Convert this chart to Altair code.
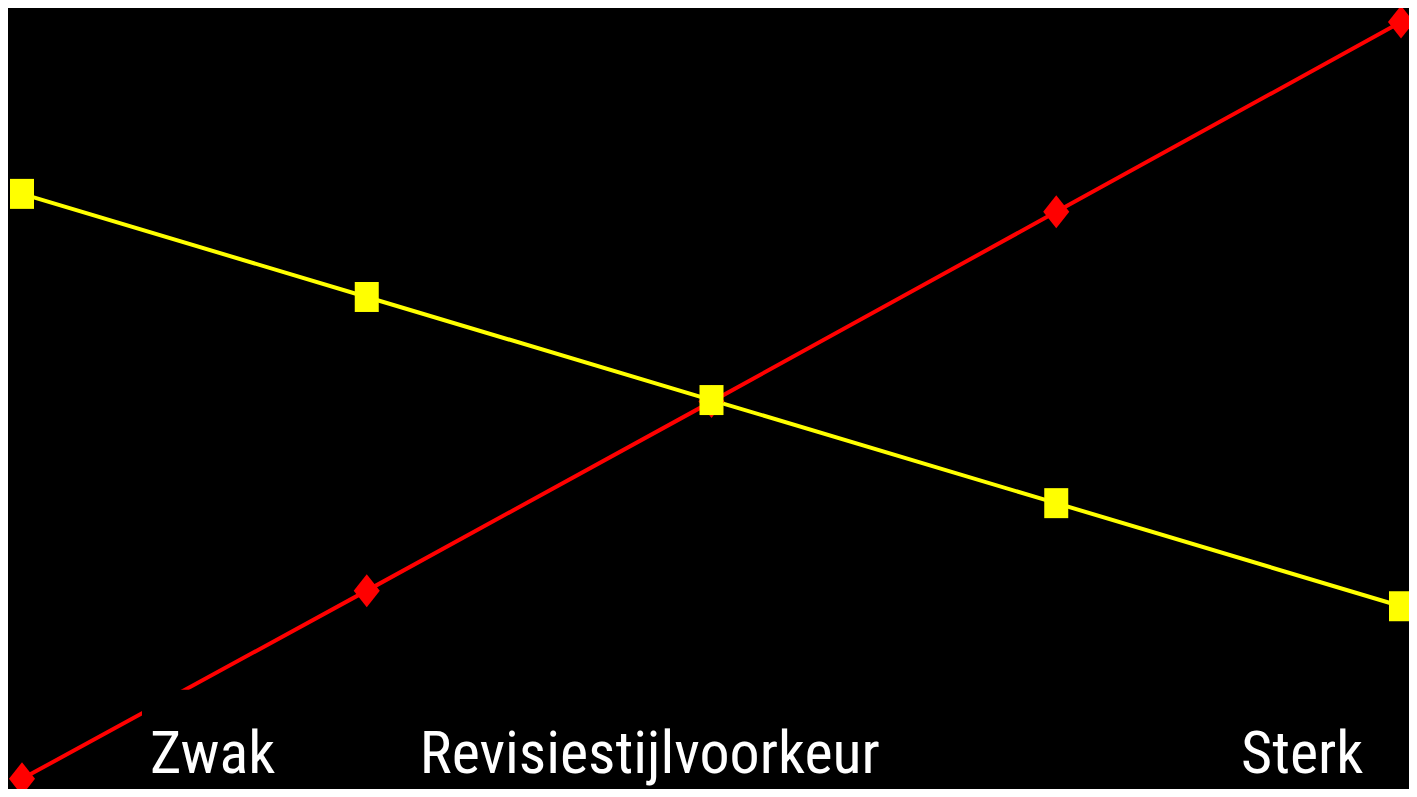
import altair as alt
import pandas as pd

# data
steps = [1, 2, 3, 4, 5]
yellow_vals = [76.2, 63.0, 49.8, 36.6, 23.4]
red_vals = [1.3, 25.4, 49.6, 73.9, 98.2]

labels = ["Zwak", "Revisiestijlvoorkeur", "Sterk"]
label_x = [1.371, 2.154, 4.536]
label_y = [2.05, 2.05, 2.05]

# label box (black background behind the axis texts)
box_x = [1.348]
box_x2 = [5.2]
box_y = [12.7]
box_y2 = [-5]

W, H = 1401, 781

yellow_df = pd.DataFrame({"x": steps, "y": yellow_vals})
red_df = pd.DataFrame({"x": steps, "y": red_vals})
label_df = pd.DataFrame({"x": label_x, "y": label_y, "t": labels})
box_df = pd.DataFrame({"x": box_x, "x2": box_x2, "y": box_y, "y2": box_y2})

xs = alt.Scale(domain=[1, 5], range=[14, 1393])
ys = alt.Scale(domain=[0, 100], range=[H, 0])

X = alt.X("x:Q", scale=xs, axis=None)
Y = alt.Y("y:Q", scale=ys, axis=None)

square = "M-0.8,-1L0.8,-1L0.8,1L-0.8,1Z"
diamond = "M0,-1L0.79,0L0,1L-0.79,0Z"

yl = alt.Chart(yellow_df).mark_line(color="#FFFF00", strokeWidth=4, clip=False).encode(x=X, y=Y)
rl = alt.Chart(red_df).mark_line(color="#FF0000", strokeWidth=4, clip=False).encode(x=X, y=Y)
box = alt.Chart(box_df).mark_rect(color="black", clip=False).encode(
    x=X, x2="x2:Q", y=Y, y2="y2:Q")
rp = alt.Chart(red_df).mark_point(shape=diamond, filled=True, opacity=1, color="#FF0000",
                                   size=33 * 33, clip=False).encode(x=X, y=Y)
yp = alt.Chart(yellow_df).mark_point(shape=square, filled=True, opacity=1, color="#FFFF00",
                                      size=30 * 30, clip=False).encode(x=X, y=Y)
txt = alt.Chart(label_df).mark_text(color="white", font="Roboto Condensed", fontSize=60,
                                    align="left", baseline="alphabetic", clip=False).encode(
    x=X, y=Y, text="t:N")

chart = alt.layer(yl, rl, box, rp, yp, txt).properties(
    width=W, height=H, background="black", padding=0,
    autosize=alt.AutoSizeParams(type="none")
).configure_view(strokeWidth=0)

chart.save("out.html", embed_options={"renderer": "svg", "actions": False})
